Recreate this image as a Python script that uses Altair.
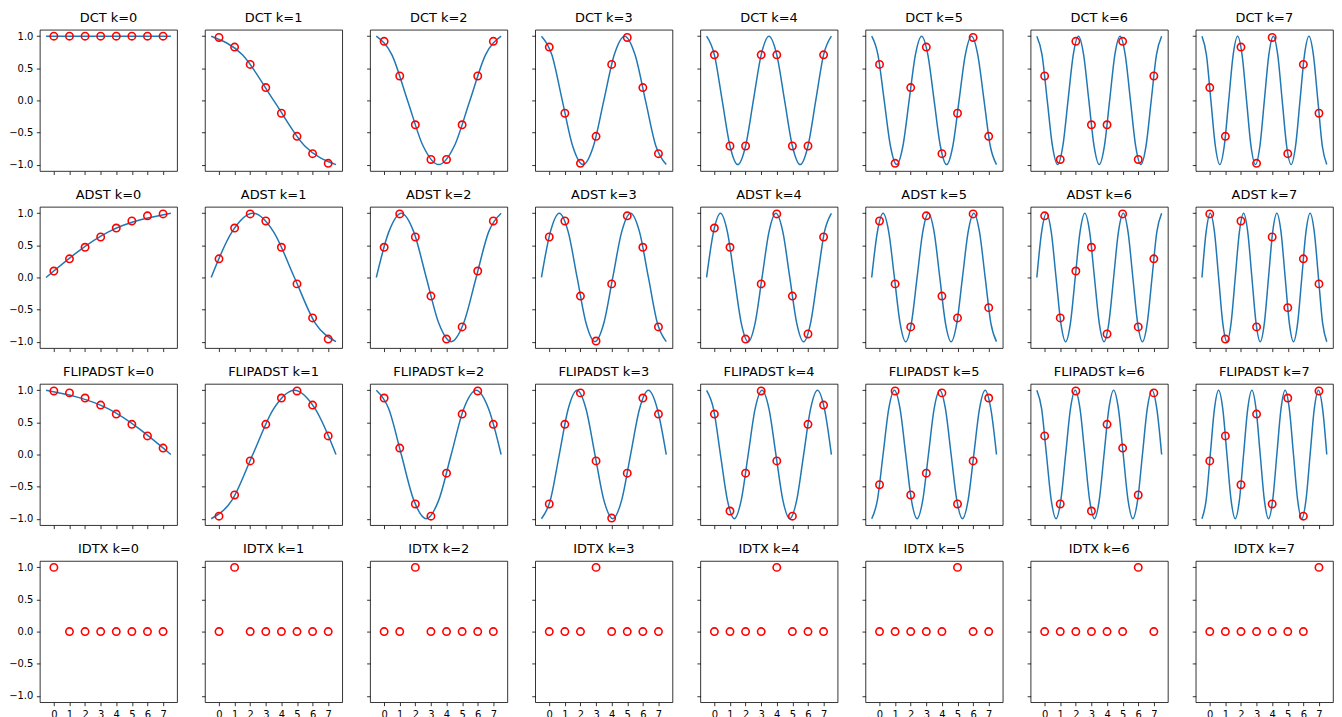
import altair as alt
import pandas as pd

# ---------------- data ----------------
K_VALUES = [0, 1, 2, 3, 4, 5, 6, 7]
SAMPLE_N = [0, 1, 2, 3, 4, 5, 6, 7]
Y_TICKS = [-1.0, -0.5, 0.0, 0.5, 1.0]

# red circle markers (value at each sample n) for each k
DCT_POINTS = [
    [1.00, 1.00, 1.00, 1.00, 1.00, 1.00, 1.00, 1.00],
    [0.98, 0.83, 0.56, 0.20, -0.20, -0.56, -0.83, -0.98],
    [0.92, 0.38, -0.38, -0.92, -0.92, -0.38, 0.38, 0.92],
    [0.83, -0.20, -0.98, -0.56, 0.56, 0.98, 0.20, -0.83],
    [0.71, -0.71, -0.71, 0.71, 0.71, -0.71, -0.71, 0.71],
    [0.56, -0.98, 0.20, 0.83, -0.83, -0.20, 0.98, -0.56],
    [0.38, -0.92, 0.92, -0.38, -0.38, 0.92, -0.92, 0.38],
    [0.20, -0.56, 0.83, -0.98, 0.98, -0.83, 0.56, -0.20],
]
ADST_POINTS = [
    [0.10, 0.29, 0.47, 0.63, 0.77, 0.88, 0.96, 0.99],
    [0.29, 0.77, 0.99, 0.88, 0.47, -0.10, -0.63, -0.96],
    [0.47, 0.99, 0.63, -0.29, -0.96, -0.77, 0.10, 0.88],
    [0.63, 0.88, -0.29, -0.99, -0.10, 0.96, 0.47, -0.77],
    [0.77, 0.47, -0.96, -0.10, 0.99, -0.29, -0.88, 0.63],
    [0.88, -0.10, -0.77, 0.96, -0.29, -0.63, 0.99, -0.47],
    [0.96, -0.63, 0.10, 0.47, -0.88, 0.99, -0.77, 0.29],
    [0.99, -0.96, 0.88, -0.77, 0.63, -0.47, 0.29, -0.10],
]
FLIPADST_POINTS = [
    [0.99, 0.96, 0.88, 0.77, 0.63, 0.47, 0.29, 0.10],
    [-0.96, -0.63, -0.10, 0.47, 0.88, 0.99, 0.77, 0.29],
    [0.88, 0.10, -0.77, -0.96, -0.29, 0.63, 0.99, 0.47],
    [-0.77, 0.47, 0.96, -0.10, -0.99, -0.29, 0.88, 0.63],
    [0.63, -0.88, -0.29, 0.99, -0.10, -0.96, 0.47, 0.77],
    [-0.47, 0.99, -0.63, -0.29, 0.96, -0.77, -0.10, 0.88],
    [0.29, -0.77, 0.99, -0.88, 0.47, 0.10, -0.63, 0.96],
    [-0.10, 0.29, -0.47, 0.63, -0.77, 0.88, -0.96, 0.99],
]
IDTX_POINTS = [
    [1, 0, 0, 0, 0, 0, 0, 0],
    [0, 1, 0, 0, 0, 0, 0, 0],
    [0, 0, 1, 0, 0, 0, 0, 0],
    [0, 0, 0, 1, 0, 0, 0, 0],
    [0, 0, 0, 0, 1, 0, 0, 0],
    [0, 0, 0, 0, 0, 1, 0, 0],
    [0, 0, 0, 0, 0, 0, 1, 0],
    [0, 0, 0, 0, 0, 0, 0, 1],
]

# blue continuous curves: key values (peaks, zero crossings, mid-slopes)
# read at equally spaced positions from x = -0.5 to x = 7.5
CURVE_X_START = -0.5
CURVE_X_END = 7.5
DCT_CURVES = [
    [1, 1],
    [1, .71, 0, -.71, -1],
    [1, .71, 0, -.71, -1, -.71, 0, .71, 1],
    [1, .71, 0, -.71, -1, -.71, 0, .71, 1, .71, 0, -.71, -1],
    [1, .71, 0, -.71, -1, -.71, 0, .71, 1, .71, 0, -.71, -1, -.71, 0, .71,
     1],
    [1, .71, 0, -.71, -1, -.71, 0, .71, 1, .71, 0, -.71, -1, -.71, 0, .71,
     1, .71, 0, -.71, -1],
    [1, .71, 0, -.71, -1, -.71, 0, .71, 1, .71, 0, -.71, -1, -.71, 0, .71,
     1, .71, 0, -.71, -1, -.71, 0, .71, 1],
    [1, .71, 0, -.71, -1, -.71, 0, .71, 1, .71, 0, -.71, -1, -.71, 0, .71,
     1, .71, 0, -.71, -1, -.71, 0, .71, 1, .71, 0, -.71, -1],
]
ADST_CURVES = [
    [0, .71, 1],
    [0, .71, 1, .71, 0, -.71, -1],
    [0, .71, 1, .71, 0, -.71, -1, -.71, 0, .71, 1],
    [0, .71, 1, .71, 0, -.71, -1, -.71, 0, .71, 1, .71, 0, -.71, -1],
    [0, .71, 1, .71, 0, -.71, -1, -.71, 0, .71, 1, .71, 0, -.71, -1, -.71,
     0, .71, 1],
    [0, .71, 1, .71, 0, -.71, -1, -.71, 0, .71, 1, .71, 0, -.71, -1, -.71,
     0, .71, 1, .71, 0, -.71, -1],
    [0, .71, 1, .71, 0, -.71, -1, -.71, 0, .71, 1, .71, 0, -.71, -1, -.71,
     0, .71, 1, .71, 0, -.71, -1, -.71, 0, .71, 1],
    [0, .71, 1, .71, 0, -.71, -1, -.71, 0, .71, 1, .71, 0, -.71, -1, -.71,
     0, .71, 1, .71, 0, -.71, -1, -.71, 0, .71, 1, .71, 0, -.71, -1],
]
FLIPADST_CURVES = [
    [1, .71, 0],
    [-1, -.71, 0, .71, 1, .71, 0],
    [1, .71, 0, -.71, -1, -.71, 0, .71, 1, .71, 0],
    [-1, -.71, 0, .71, 1, .71, 0, -.71, -1, -.71, 0, .71, 1, .71, 0],
    [1, .71, 0, -.71, -1, -.71, 0, .71, 1, .71, 0, -.71, -1, -.71, 0, .71,
     1, .71, 0],
    [-1, -.71, 0, .71, 1, .71, 0, -.71, -1, -.71, 0, .71, 1, .71, 0, -.71,
     -1, -.71, 0, .71, 1, .71, 0],
    [1, .71, 0, -.71, -1, -.71, 0, .71, 1, .71, 0, -.71, -1, -.71, 0, .71,
     1, .71, 0, -.71, -1, -.71, 0, .71, 1, .71, 0],
    [-1, -.71, 0, .71, 1, .71, 0, -.71, -1, -.71, 0, .71, 1, .71, 0, -.71,
     -1, -.71, 0, .71, 1, .71, 0, -.71, -1, -.71, 0, .71, 1, .71, 0],
]

ROWS = [
    ("DCT", DCT_POINTS, DCT_CURVES),
    ("ADST", ADST_POINTS, ADST_CURVES),
    ("FLIPADST", FLIPADST_POINTS, FLIPADST_CURVES),
    ("IDTX", IDTX_POINTS, None),
]

# ---------------- chart ----------------
X_DOMAIN = [-0.9, 7.9]
Y_DOMAIN = [-1.1, 1.1]
PANEL_W = 138
PANEL_H = 142
FONT = "DejaVu Sans"

charts = []
for r, (name, points, curves) in enumerate(ROWS):
    for k in K_VALUES:
        x_enc = alt.X(
            "x:Q",
            scale=alt.Scale(domain=X_DOMAIN, nice=False, zero=False),
            axis=alt.Axis(values=SAMPLE_N, format="d", labels=(r == len(ROWS) - 1)),
            title=None,
        )
        y_enc = alt.Y(
            "y:Q",
            scale=alt.Scale(domain=Y_DOMAIN, nice=False, zero=False),
            axis=alt.Axis(values=Y_TICKS, format=".1f", labels=(k == 0)),
            title=None,
        )
        pts_df = pd.DataFrame({"x": SAMPLE_N, "y": points[k]})
        pts_layer = alt.Chart(pts_df).mark_point(
            shape="circle", filled=False, color="#ff0000", size=55,
            strokeWidth=1.6, opacity=1, clip=True,
        ).encode(x=x_enc, y=y_enc)
        layers = []
        if curves is not None:
            vals = curves[k]
            n = len(vals)
            step = (CURVE_X_END - CURVE_X_START) / (n - 1)
            cx = [CURVE_X_START + i * step for i in range(n)]
            line_df = pd.DataFrame({"x": cx, "y": vals})
            line_layer = alt.Chart(line_df).mark_line(
                color="#1f77b4", strokeWidth=1.5, interpolate="monotone", clip=True,
            ).encode(x=x_enc, y=y_enc)
            layers.append(line_layer)
        layers.append(pts_layer)
        panel = alt.layer(*layers).properties(
            width=PANEL_W,
            height=PANEL_H,
            title=alt.TitleParams(
                text=f"{name} k={k}", font=FONT, fontSize=13,
                fontWeight="normal", color="#000000", offset=5, anchor="middle",
            ),
        )
        charts.append(panel)

chart = (
    alt.concat(*charts, columns=8, spacing={"row": 36, "column": 28}, bounds="flush")
    .properties(padding={"left": 0, "top": 1, "right": 0, "bottom": 0}, background="white")
    .configure_view(stroke="black", strokeWidth=0.8)
    .configure_axis(
        domain=False, grid=False, tickColor="black", tickSize=3.5, tickWidth=0.8,
        labelFont=FONT, labelFontSize=10, labelColor="black", labelPadding=3.5,
    )
    .configure_title(font=FONT, fontSize=13, fontWeight="normal", color="black", offset=5)
)

chart.save("out.html", embed_options={"renderer": "svg", "actions": False})
